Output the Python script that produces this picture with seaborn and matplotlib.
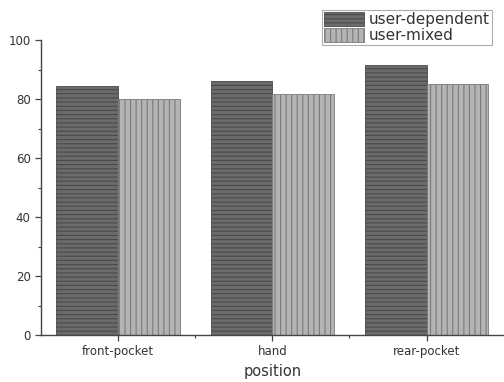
import matplotlib
matplotlib.use("Agg")
import matplotlib.pyplot as plt
import seaborn as sns
import pandas as pd
from matplotlib.ticker import MultipleLocator
from matplotlib.patches import Patch

positions = ["front-pocket", "hand", "rear-pocket"]
user_dependent = [84.6, 86.2, 91.6]
user_mixed = [79.9, 81.7, 85.1]
series_names = ["user-dependent", "user-mixed"]

df = pd.DataFrame({
    "position": positions * 2,
    "value": user_dependent + user_mixed,
    "series": [series_names[0]] * 3 + [series_names[1]] * 3,
})

sns.set_theme(style="white")
plt.rcParams['font.family'] = ['DejaVu Sans']
plt.rcParams['hatch.linewidth'] = 0.8

colors = ["#6b6b6b", "#b4b4b4"]
hatches = ["----", "|||"]
hatch_colors = ["#4a4a4a", "#7a7a7a"]

fig = plt.figure(figsize=(5.04, 3.82), dpi=100)
ax = fig.add_axes([0.0813, 0.123, 0.918, 0.772])
sns.barplot(data=df, x="position", y="value", hue="series", palette=colors,
            width=0.8, ax=ax, legend=False, saturation=1)

for i, cont in enumerate(ax.containers):
    for bar in cont:
        bar.set_hatch(hatches[i])
        bar.set_edgecolor(hatch_colors[i])
        bar.set_linewidth(0.6)

ax.set_xlim(-0.5, 2.5)
ax.set_ylim(0, 100)
ax.yaxis.set_major_locator(MultipleLocator(20))
ax.yaxis.set_minor_locator(MultipleLocator(10))
ax.set_xticks([0, 1, 2])
ax.set_xticks([0.5, 1.5], minor=True)
ax.set_xticklabels(positions)
ax.set_xlabel("position", fontsize=10.5, color="#333333", labelpad=4)
ax.set_ylabel("")
for s in ["top", "right"]:
    ax.spines[s].set_visible(False)
for s in ["left", "bottom"]:
    ax.spines[s].set_color("#444444")
    ax.spines[s].set_linewidth(1.0)
ax.tick_params(axis="both", which="major", direction="out", length=4, width=0.9,
               colors="#444444", labelsize=8.5, labelcolor="#333333")
ax.tick_params(axis="both", which="minor", direction="out", length=2.5, width=0.8,
               colors="#444444")
ax.tick_params(axis="both", which="both", bottom=True, left=True)

handles = [Patch(facecolor=colors[i], edgecolor=hatch_colors[i], hatch=hatches[i],
                 linewidth=0.6, label=series_names[i]) for i in range(2)]
leg = fig.legend(handles=handles, loc="upper left", bbox_to_anchor=(0.639, 0.974),
                 fontsize=11, frameon=True, fancybox=False, handlelength=2.6,
                 handleheight=1.0, handletextpad=0.3, borderpad=0.15,
                 labelspacing=0.05, borderaxespad=0)
leg.get_frame().set_edgecolor("#999999")
leg.get_frame().set_linewidth(0.8)
for t in leg.get_texts():
    t.set_color("#333333")

fig.savefig("out.png", dpi=100)
